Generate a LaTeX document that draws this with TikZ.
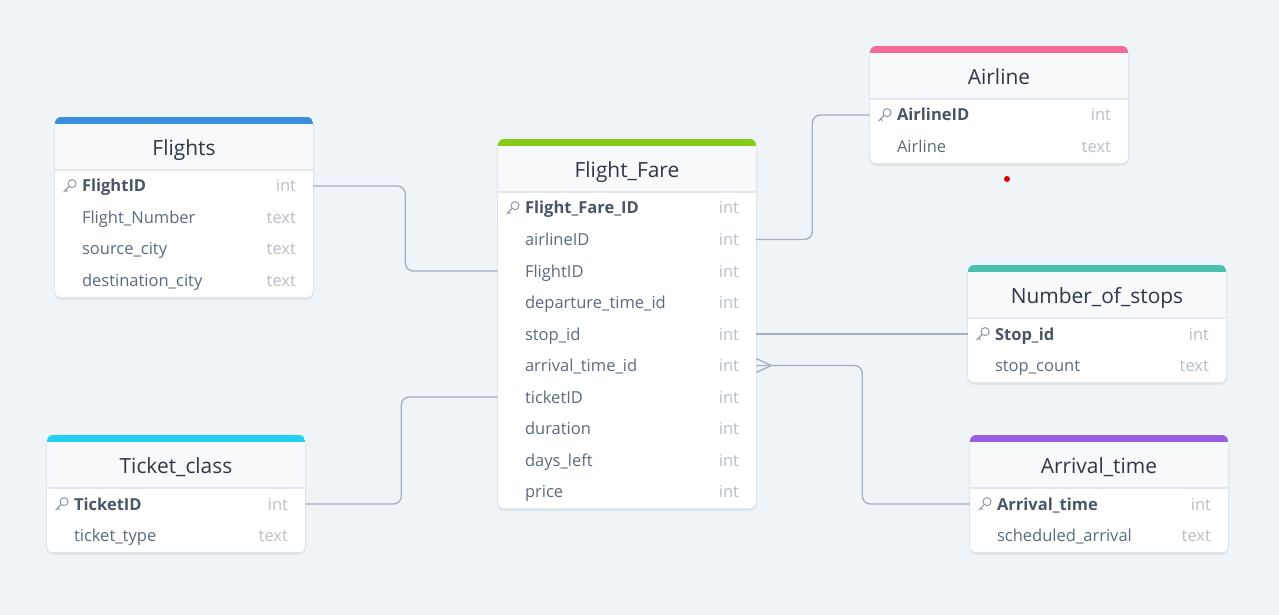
\documentclass[tikz,border=0pt]{standalone}
\usepackage{fontspec}
\setmainfont{Open Sans}
\usepackage{xcolor}
\usepackage{tikz}
\usetikzlibrary{calc}
\definecolor{canvas}{HTML}{EFF4F8}
\definecolor{headfill}{HTML}{F7F9FB}
\definecolor{rulegrey}{HTML}{E2E8F0}
\definecolor{titletext}{HTML}{2D3748}
\definecolor{fieldtext}{HTML}{5B6B7F}
\definecolor{keytext}{HTML}{4A5568}
\definecolor{typetext}{HTML}{B9BFC7}
\definecolor{linkgrey}{HTML}{A3B0C2}
\definecolor{keygrey}{HTML}{8A96A6}
\definecolor{flightsblue}{HTML}{3A8EDB}
\definecolor{farelime}{HTML}{84CC16}
\definecolor{airlinepink}{HTML}{F26B95}
\definecolor{stopsteal}{HTML}{4CBFB1}
\definecolor{ticketcyan}{HTML}{22D3EE}
\definecolor{arrivalpurple}{HTML}{9A5FE0}
\tikzset{keyicon/.pic={
  \draw[keygrey,line width=0.55pt] (2.4,-2.4) circle[radius=0.8mm];
  \draw[keygrey,line width=0.55pt,line cap=round] (-0.4,0.4) -- (-6,6) (-4,4) -- (-2.4,5.6);
}}
\newcommand{\dbtable}[8]{%
  \pgfmathsetmacro{\tbot}{#3+54+31.5*#6}
  \fill[black,opacity=.06,rounded corners=1.6mm] (#2-1,#3+1) rectangle (#2+259,\tbot+3);
  \begin{scope}
    \clip[rounded corners=1.2mm] (#2,#3) rectangle (#2+258,\tbot);
    \fill[white] (#2,#3) rectangle (#2+258,\tbot);
    \fill[headfill] (#2,#3) rectangle (#2+258,#3+53);
    \fill[#4] (#2,#3) rectangle (#2+258,#3+7);
    \draw[rulegrey,line width=1pt] (#2,#3+53) -- (#2+258,#3+53);
  \end{scope}
  \node[tabletitle] (#1-title) at (#2+129,#3+38.5) {#5};
  \node[fieldrow] (#1-key) at (#2+129,#3+69) {};
  \pic at ($(#1-key.west)+(15,0)$) {keyicon};
  \node[keyname] at ($(#1-key.west)+(27,6)$) {#7};
  \node[typename] at ($(#1-key.east)+(-17,6)$) {int};
  \foreach \id/\f/\t [count=\i] in {#8} {
    \node[fieldrow] (#1-\id) at (#2+129,#3+69+31.5*\i) {};
    \node[fieldname] at ($(#1-\id.west)+(27,6)$) {\f};
    \node[typename] at ($(#1-\id.east)+(-17,6)$) {\t};
  }
}

\begin{document}
\begin{tikzpicture}[x=0.02cm,y=-0.02cm,
  tabletitle/.style={anchor=base,inner sep=0pt,text=titletext,font=\fontsize{11.9}{14}\selectfont},
  fieldrow/.style={minimum width=5.16cm,minimum height=0.63cm,inner sep=0pt},
  fieldname/.style={anchor=base west,inner sep=0pt,text=fieldtext,font=\fontsize{9.4}{11}\selectfont},
  keyname/.style={fieldname,text=keytext,font=\fontsize{9.4}{11}\selectfont\bfseries},
  typename/.style={anchor=base east,inner sep=0pt,text=typetext,font=\fontsize{9.4}{11}\selectfont},
  link/.style={draw=linkgrey,line width=0.75pt,rounded corners=1.6mm}]
\fill[canvas] (0,0) rectangle (1279,615);
\useasboundingbox (0,0) rectangle (1279,615);
\dbtable{flights}{55}{117}{flightsblue}{Flights}{4}{FlightID}{fno/Flight\_Number/text, src/source\_city/text, dst/destination\_city/text}
\dbtable{fare}{498}{139}{farelime}{Flight\_Fare}{10}{Flight\_Fare\_ID}{air/airlineID/int, fid/FlightID/int, dep/departure\_time\_id/int, stop/stop\_id/int, arr/arrival\_time\_id/int, tick/ticketID/int, dur/duration/int, days/days\_left/int, price/price/int}
\dbtable{airline}{870}{46}{airlinepink}{Airline}{2}{AirlineID}{name/Airline/text}
\dbtable{stops}{968}{265}{stopsteal}{Number\_of\_stops}{2}{Stop\_id}{cnt/stop\_count/text}
\dbtable{ticket}{47}{435}{ticketcyan}{Ticket\_class}{2}{TicketID}{type/ticket\_type/text}
\dbtable{arrival}{970}{435}{arrivalpurple}{Arrival\_time}{2}{Arrival\_time}{sched/scheduled\_arrival/text}
\draw[link] (flights-key.east) -- ++(92,0) |- (fare-fid.west);
\draw[link] (fare-air.east) -- ++(56,0) |- (airline-key.west);
\draw[link] (fare-stop.east) -- (stops-key.west);
\draw[link] (fare-arr.east) -- ++(106,0) |- (arrival-key.west);
\draw[link,sharp corners] ($(fare-arr.east)+(0,-7)$) -- ($(fare-arr.east)+(15,0)$) -- ($(fare-arr.east)+(0,7)$);
\draw[link] (ticket-key.east) -- ++(96,0) |- (fare-tick.west);
\fill[red!85!black] (1007,179) circle[radius=0.06cm];
\end{tikzpicture}
\end{document}
